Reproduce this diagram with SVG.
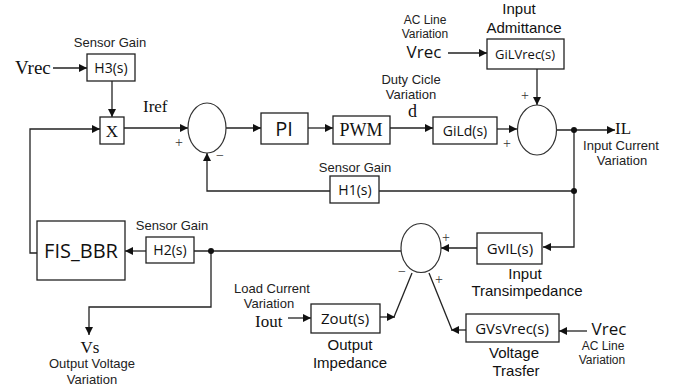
<svg xmlns="http://www.w3.org/2000/svg" width="676" height="389" viewBox="0 0 676 389">
<defs>
<marker id="ah" viewBox="0 0 10 10" refX="10" refY="5" markerWidth="8" markerHeight="8" markerUnits="userSpaceOnUse" orient="auto">
<path d="M0,0 L10,5 L0,10 Z" fill="#111"/>
</marker>
<style>
.box{fill:#fff;stroke:#222;stroke-width:1.3}
.sum{fill:#fff;stroke:#333;stroke-width:1.2}
.ln{fill:none;stroke:#222;stroke-width:1.3}
.arr{fill:none;stroke:#222;stroke-width:1.3;marker-end:url(#ah)}
.lbl{font-family:"Liberation Sans",Arial,sans-serif;font-size:13px;fill:#222;text-anchor:middle}
.sm{font-size:12px}
.bt{font-family:"Open Sans","Liberation Sans",sans-serif;font-size:14px;fill:#111;text-anchor:middle}
.cap{font-family:"Liberation Sans",Arial,sans-serif;font-size:15px;fill:#111;text-anchor:middle}
.sf{font-family:"Liberation Serif",serif;font-size:18px;fill:#111}
.sg{font-family:"Liberation Serif",serif;font-size:14px;fill:#333;text-anchor:middle}
.dot{fill:#111}
</style>
</defs>
<rect width="676" height="389" fill="#fff"/>

<g id="connectors">
<path class="arr" d="M53,68 H87"/>
<path class="arr" d="M112,81 V117"/>
<path class="arr" d="M37,253 H30 V129 H100"/>
<path class="arr" d="M124,128 H188"/>
<path class="arr" d="M226,128 H261"/>
<path class="arr" d="M308,128 H333"/>
<path class="arr" d="M390,128 H433"/>
<path class="arr" d="M497,129 H517"/>
<path class="arr" d="M448,53 H487"/>
<path class="arr" d="M537,69 V105"/>
<path class="arr" d="M556,130 H615"/>
<path class="arr" d="M574,130 V247 H543"/>
<path class="ln" d="M574,191 H379"/>
<path class="arr" d="M330,191 H207 V153"/>
<path class="arr" d="M477,248 H441"/>
<path class="ln" d="M401,251 H194"/>
<path class="arr" d="M146,251 H125"/>
<path class="arr" d="M211,251 V307 H89 V335"/>
<path class="arr" d="M288,318 H311"/>
<path class="arr" d="M380,317 H395"/>
<path class="ln" d="M394,317 L412,273"/>
<path class="arr" d="M466,330 H451"/>
<path class="ln" d="M452,330 L429,273"/>
<path class="arr" d="M587,331 H559"/>
<circle class="dot" cx="574" cy="130" r="3"/>
<circle class="dot" cx="574" cy="191" r="3"/>
<circle class="dot" cx="211" cy="251" r="3"/>
</g>

<g id="vrec1"><text class="sf" x="15" y="74" style="font-size:19px">Vrec</text></g>
<g id="H3">
<text class="lbl" x="110" y="47">Sensor Gain</text>
<rect class="box" x="87" y="54" width="48" height="27"/>
<text class="bt" x="111" y="73">H3(s)</text>
</g>
<g id="X">
<rect class="box" x="100" y="117" width="24" height="27"/>
<text class="sf" x="112" y="137" text-anchor="middle" style="font-size:17px">X</text>
</g>
<g id="iref"><text class="sf" x="143" y="112" style="font-size:17px">Iref</text></g>
<g id="sum1">
<ellipse class="sum" cx="207" cy="128" rx="19" ry="25"/>
<text class="sg" x="179" y="147">+</text>
<text class="sg" x="220" y="160">−</text>
</g>
<g id="PI">
<rect class="box" x="261" y="113" width="47" height="31"/>
<text class="bt" x="284" y="136" style="font-size:20px">PI</text>
</g>
<g id="PWM">
<rect class="box" x="333" y="116" width="57" height="28"/>
<text class="sf" x="361" y="136" text-anchor="middle">PWM</text>
</g>
<g id="duty">
<text class="lbl" x="411" y="84">Duty Cicle</text>
<text class="lbl" x="411" y="99">Variation</text>
<text class="sf" x="408" y="117">d</text>
</g>
<g id="GiLd">
<rect class="box" x="433" y="117" width="64" height="27"/>
<text class="bt" x="465" y="136">GiLd(s)</text>
</g>
<g id="vrec2">
<text class="lbl sm" x="425" y="24">AC Line</text>
<text class="lbl sm" x="425" y="38">Variation</text>
<text class="bt" x="424" y="58" style="font-size:17px">Vrec</text>
</g>
<g id="GiLVrec">
<text class="cap" x="519" y="14">Input</text>
<text class="cap" x="524" y="33">Admittance</text>
<rect class="box" x="487" y="39" width="77" height="30"/>
<text class="bt" x="525" y="59" style="font-size:13px">GiLVrec(s)</text>
</g>
<g id="sum2">
<ellipse class="sum" cx="537" cy="130" rx="19.5" ry="25"/>
<text class="sg" x="525" y="100">+</text>
<text class="sg" x="507" y="148">+</text>
</g>
<g id="IL">
<text class="sf" x="615" y="134" style="font-size:17px">IL</text>
<text class="lbl" x="621" y="150">Input Current</text>
<text class="lbl" x="622" y="165">Variation</text>
</g>
<g id="H1">
<text class="lbl" x="355" y="172">Sensor Gain</text>
<rect class="box" x="330" y="176" width="49" height="27"/>
<text class="bt" x="355" y="195">H1(s)</text>
</g>
<g id="GvIL">
<rect class="box" x="477" y="233" width="65" height="31"/>
<text class="bt" x="510" y="254" style="font-size:15px">GvIL(s)</text>
<text class="cap" x="525" y="279">Input</text>
<text class="cap" x="527" y="296">Transimpedance</text>
</g>
<g id="sum3">
<ellipse class="sum" cx="421" cy="248" rx="20" ry="24.5"/>
<text class="sg" x="446" y="242">+</text>
<text class="sg" x="402" y="276">−</text>
<text class="sg" x="439" y="284">+</text>
</g>
<g id="FIS_BBR">
<rect class="box" x="37" y="221" width="88" height="59"/>
<text class="bt" x="81" y="258" style="font-size:20px">FIS_BBR</text>
</g>
<g id="H2">
<text class="lbl" x="172" y="230">Sensor Gain</text>
<rect class="box" x="146" y="237" width="48" height="26"/>
<text class="bt" x="170" y="255">H2(s)</text>
</g>
<g id="Vs">
<text class="sf" x="90" y="353" text-anchor="middle" style="font-size:17px">Vs</text>
<text class="lbl" x="92" y="368">Output Voltage</text>
<text class="lbl" x="92" y="384">Variation</text>
</g>
<g id="Iout">
<text class="lbl" x="272" y="293">Load Current</text>
<text class="lbl" x="269" y="308">Variation</text>
<text class="sf" x="255" y="327" style="font-size:17px">Iout</text>
</g>
<g id="Zout">
<rect class="box" x="311" y="304" width="69" height="29"/>
<text class="bt" x="345" y="324" style="font-size:15px">Zout(s)</text>
<text class="cap" x="350" y="350">Output</text>
<text class="cap" x="350" y="368">Impedance</text>
</g>
<g id="GVsVrec">
<rect class="box" x="466" y="314" width="93" height="28"/>
<text class="bt" x="512" y="334" style="font-size:15px">GVsVrec(s)</text>
<text class="cap" x="514" y="358">Voltage</text>
<text class="cap" x="516" y="376">Trasfer</text>
</g>
<g id="vrec3">
<text class="bt" x="609" y="335" style="font-size:17px">Vrec</text>
<text class="lbl sm" x="603" y="350">AC Line</text>
<text class="lbl sm" x="602" y="364">Variation</text>
</g>
</svg>
